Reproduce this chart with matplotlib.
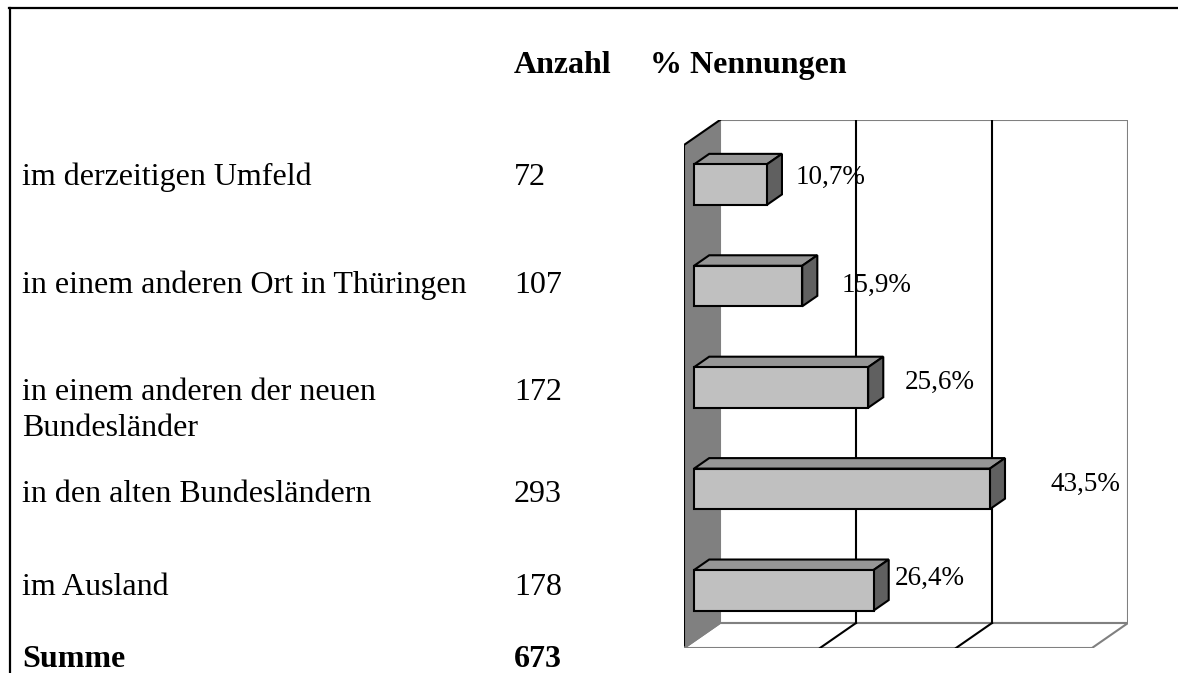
import matplotlib
matplotlib.use("Agg")
import matplotlib.pyplot as plt
from matplotlib.patches import Polygon
from matplotlib.lines import Line2D

categories = ["im derzeitigen Umfeld",
              "in einem anderen Ort in Thüringen",
              "in einem anderen der neuen\nBundesländer",
              "in den alten Bundesländern",
              "im Ausland"]
counts = [72, 107, 172, 293, 178]
total_label = "Summe"
total = 673
percent = [10.7, 15.9, 25.6, 43.5, 26.4]
header_count = "Anzahl"
header_pct = "% Nennungen"
grid_ticks = [20, 40, 60]

W, H = 1178, 673
fig = plt.figure(figsize=(W / 100, H / 100), dpi=100)
serif = ["Liberation Serif", "DejaVu Serif"]


def fx(x):
    return x / W


def fy(y):
    return 1 - y / H


# frame of the table
fig.add_artist(Line2D([fx(9), fx(1178)], [fy(8), fy(8)], color="black", lw=1.6))
fig.add_artist(Line2D([fx(10), fx(10)], [fy(8), fy(673)], color="black", lw=1.6))

# table text
fig.text(fx(514), fy(73), header_count, fontsize=23, fontweight="bold", family=serif)
fig.text(fx(650), fy(73), header_pct, fontsize=23, fontweight="bold", family=serif)
row_base = [185, 293, 400, 502, 595]
line_gap = 36
for cat, n, yb in zip(categories, counts, row_base):
    for k, line in enumerate(cat.split("\n")):
        fig.text(fx(22), fy(yb + k * line_gap), line, fontsize=23, family=serif)
    fig.text(fx(514), fy(yb), str(n), fontsize=23, family=serif)
fig.text(fx(22), fy(667), total_label, fontsize=23, fontweight="bold", family=serif)
fig.text(fx(514), fy(667), str(total), fontsize=23, fontweight="bold", family=serif)

# 3d-looking bar chart
DX = 36 / 6.8      # depth offset in % units
DY = 25 / 101.5    # depth offset in category units
top_front = -0.46
bottom = 4.5
xmax = grid_ticks[-1]

ax = fig.add_axes([fx(684), fy(648), (1128 - 684) / W, (648 - 120) / H])
ax.set_xlim(0, xmax + DX)
ax.set_ylim(bottom, top_front - DY)
ax.axis("off")

gray = "#808080"
# back wall
ax.add_patch(Polygon([(DX, bottom - DY), (xmax + DX, bottom - DY),
                      (xmax + DX, top_front - DY), (DX, top_front - DY)],
                     closed=True, facecolor="white", edgecolor=gray, lw=1.5, zorder=1))
# floor
ax.add_patch(Polygon([(0, bottom), (xmax, bottom), (xmax + DX, bottom - DY), (DX, bottom - DY)],
                     closed=True, facecolor="white", edgecolor=gray, lw=1.5, zorder=1))
# grid lines on wall and floor
for g in grid_ticks[:-1]:
    ax.plot([g + DX, g + DX], [bottom - DY, top_front - DY], color="black", lw=1.5, zorder=2)
    ax.plot([g, g + DX], [bottom, bottom - DY], color="black", lw=1.5, zorder=2)
# side wall
ax.add_patch(Polygon([(0, bottom), (0, top_front), (DX, top_front - DY), (DX, bottom - DY)],
                     closed=True, facecolor=gray, edgecolor="none", zorder=3))
ax.plot([DX, 0, 0], [top_front - DY, top_front, bottom], color="black", lw=1.5, zorder=3)
ax.plot([0, DX], [bottom, bottom - DY], color=gray, lw=1.5, zorder=3)

# bars
d0, d1 = 0.28, 0.70
bh = 0.4
ypos = [i - d0 * DY for i in range(len(percent))]
x0 = d0 * DX
ddx = (d1 - d0) * DX
ddy = (d1 - d0) * DY
for y, v in zip(ypos, percent):
    top = [(x0, y - bh / 2), (x0 + v, y - bh / 2),
           (x0 + v + ddx, y - bh / 2 - ddy), (x0 + ddx, y - bh / 2 - ddy)]
    side = [(x0 + v, y - bh / 2), (x0 + v, y + bh / 2),
            (x0 + v + ddx, y + bh / 2 - ddy), (x0 + v + ddx, y - bh / 2 - ddy)]
    ax.add_patch(Polygon(top, closed=True, facecolor="#969696", edgecolor="black", lw=1.5, zorder=4))
    ax.add_patch(Polygon(side, closed=True, facecolor="#606060", edgecolor="black", lw=1.5, zorder=4))
ax.barh(ypos, percent, left=x0, height=bh, color="#C0C0C0", edgecolor="black", lw=1.5, zorder=5)

# value labels (placed like the original chart)
label_dx = [9.4, 11.0, 10.5, 14.1, 8.3]
label_dy = [-0.07, -0.01, -0.05, -0.04, -0.12]
for y, v, lx, ly in zip(ypos, percent, label_dx, label_dy):
    ax.text(x0 + v + lx, y + ly, f"{v:.1f}%".replace(".", ","), ha="center", va="center",
            fontsize=19.5, family=serif, zorder=6)

fig.savefig("out.png", dpi=100)
